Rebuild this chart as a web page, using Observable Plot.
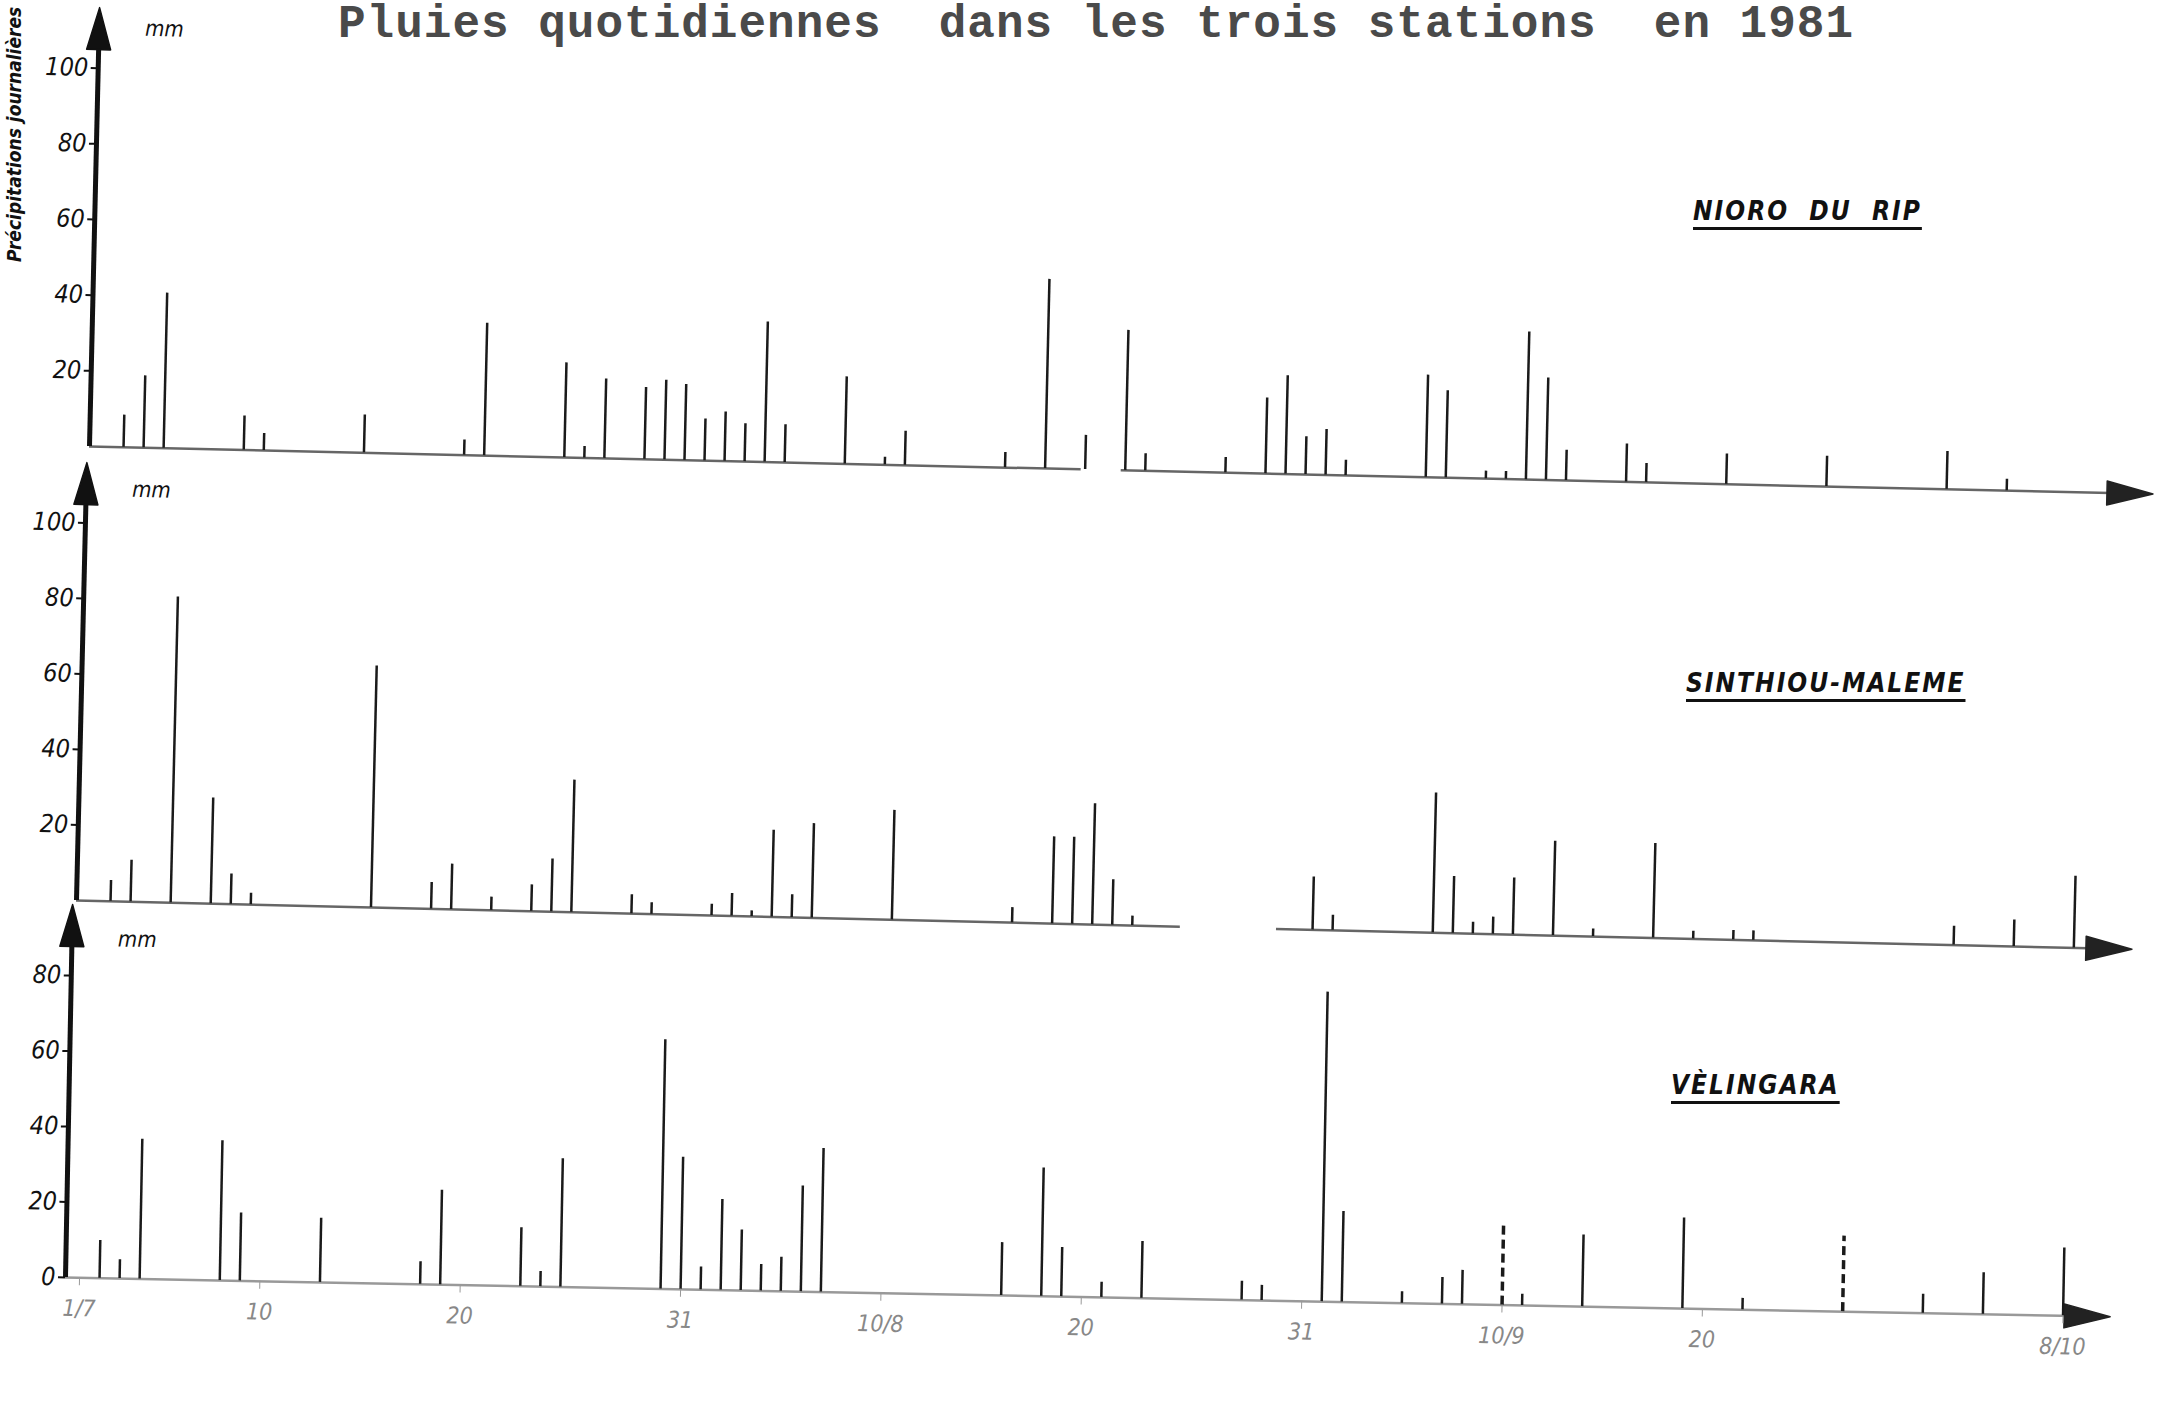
<!DOCTYPE html>
<html><head><meta charset="utf-8">
<script src="https://cdn.jsdelivr.net/npm/d3@7"></script>
<script src="https://cdn.jsdelivr.net/npm/@observablehq/plot@0.6"></script>
<style>
body{margin:0;background:#fff;}
#wrap{position:relative;width:2164px;height:1422px;overflow:hidden;background:#fff;font-family:"DejaVu Sans Condensed","Liberation Sans Narrow","DejaVu Sans",sans-serif;}
.panel{position:absolute;left:0;}
.panel svg{overflow:visible;}
.station{position:absolute;font-weight:900;font-style:italic;font-size:26px;letter-spacing:2px;text-decoration:underline;text-decoration-thickness:3px;text-underline-offset:7px;color:#111;white-space:pre;font-stretch:condensed;}
#title{position:absolute;left:338px;top:2px;line-height:46px;font-family:"Liberation Mono","DejaVu Sans Mono",monospace;font-weight:bold;font-size:46px;color:#4a4a4a;white-space:pre;letter-spacing:1px;}
#ytitle{position:absolute;left:2px;top:262px;transform:rotate(-90deg);transform-origin:left top;font-weight:bold;font-style:italic;font-size:19px;line-height:24px;color:#111;white-space:nowrap;}
</style></head>
<body><div id="wrap">
<div id="title">Pluies quotidiennes  dans les trois stations  en 1981</div>
<div id="ytitle">Précipitations journalières</div>
</div>
<script>
// Day index: 1 = 1 July 1981 (… 31 = 31 July, 62 = 31 Aug, 92 = 30 Sept, 100 = 8 Oct)
const nioroDays = [2,3,4,8,9,14,19,20,24,25,26,28,29,30,31,32,33,34,35,38,40,41,46,48,50,52,53,57,59,60,61,62,63,67,68,70,71,72,73,74,77,78,82,87,93,96];
const nioroMm   = [8.5,19,41,9,4.5,10,4,35,25,3,21,19,21,20,11,13,10,37,10,23,2,9,4,50,9,37,4.5,4,20,26,10,12,4,27,23,2,2,39,27,8,10,5,8,8,10,3];
const nioroAxisGaps = [[49.8, 51.8]];

const sinthiouDays = [2,3,5,7,8,9,15,18,19,21,23,24,25,28,29,32,33,34,35,36,37,41,47,49,50,51,52,53,62,63,68,69,70,71,72,74,76,79,81,83,84,94,97,100];
const sinthiouMm   = [5.5,11,81,28,8,3,64,7,12,3.5,7,14,35,5,3,3,6,1.5,23,6,25,29,4,23,23,32,12,2.5,14,4,37,15,3,4.5,15,25,2,25,2,2.5,2.5,5,7,19];
const sinthiouAxisGaps = [[55.4, 60.2]];

const velingaraDays = [2,3,4,8,9,13,18,19,23,24,25,30,31,32,33,34,35,36,37,38,47,49,50,52,54,59,60,63,64,67,69,70,72,73,76,81,84,89,93,96,100];
const velingaraMm   = [10,5,37,37,18,17,6,25,15.5,4,34,66,35,6,24,16,7,9,28,38,14,34,13,4,15,5,4,82,24,3,7,9,21,3,19,24,3,20,5,11,18];
const velingaraDashed = [72,89];
const velingaraAxisGaps = [];

const stationNames = ["NIORO  DU  RIP","SINTHIOU-MALEME","VÈLINGARA"];
const yTicksTop = [20,40,60,80,100];
const yTicksBottom = [0,20,40,60,80];
const xTicks = [1,10,20,31,41,51,62,72,82,100];
const xTickLabels = ["1/7","10","20","31","10/8","20","31","10/9","20","8/10"];

const tri = {draw(ctx, l, r){ ctx.moveTo(-r,0); ctx.lineTo(0,-l); ctx.lineTo(r,0); ctx.closePath(); }};
const x0 = 0.3;

function segmentsFrom(gaps, end){
  const segs = []; let s = x0;
  for (const [a,b] of gaps){ segs.push([s,a]); s = b; }
  segs.push([s,end]);
  return segs;
}

function panel(cfg){
  const rows = cfg.days.map((d,i)=>({day:d, mm:cfg.mm[i], dashed:(cfg.dashed||[]).includes(d)}));
  const marks = [
    Plot.ruleY(segmentsFrom(cfg.gaps, cfg.xEnd - 1), {y: 0, x1: d=>d[0], x2: d=>d[1], stroke: cfg.baseColor, strokeWidth: 2.5}),
    Plot.vector([[cfg.xEnd, 0]], {x: d=>d[0], y: d=>d[1], rotate: 90, length: 46, r: 12, anchor: "end", shape: tri, fill: "#222", stroke: "#222"}),
    Plot.ruleX([x0], {y1: 0, y2: cfg.yMax - 6, stroke: "#111", strokeWidth: 5}),
    Plot.vector([[x0, cfg.yMax]], {x: d=>d[0], y: d=>d[1], rotate: 0, length: 42, r: 12, anchor: "end", shape: tri, fill: "#111", stroke: "#111"}),
    Plot.axisY(cfg.yTicks, {anchor: "left", label: null, tickSize: 7, tickPadding: 3, fontSize: 25, fontStyle: "italic", stroke: "#111", strokeWidth: 2, tickFormat: d => String(d)}),
    Plot.ruleX(rows.filter(d=>!d.dashed), {x: "day", y1: 0, y2: "mm", stroke: "#1a1a1a", strokeWidth: 2.5}),
    Plot.ruleX(rows.filter(d=>d.dashed), {x: "day", y1: 0, y2: "mm", stroke: "#1a1a1a", strokeWidth: 3.5, strokeDasharray: "9,5"}),
    Plot.text(["mm"], {x: [x0], y: [cfg.yMax], dx: 46, dy: cfg.mmDy, text: d=>d, fontSize: 22, fontStyle: "italic", textAnchor: "start", fill: "#111"})
  ];
  if (cfg.xAxis) marks.push(Plot.axisX(xTicks, {anchor: "bottom", label: null, tickSize: 8, tickPadding: 14, fontSize: 23, fontStyle: "italic", stroke: "#999", fill: "#888", tickFormat: d => xTickLabels[xTicks.indexOf(d)]}));
  const svg = Plot.plot({
    width: 2164, height: cfg.height,
    marginLeft: cfg.ml, marginRight: 2164 - cfg.arrowEnd, marginTop: cfg.mt, marginBottom: cfg.mb,
    style: {fontFamily: '"DejaVu Sans Condensed","Liberation Sans Narrow","DejaVu Sans",sans-serif', background: "transparent", color: "#111"},
    x: {domain: [x0, cfg.xEnd], axis: null, label: null},
    y: {domain: [0, cfg.yMax], axis: null, label: null},
    marks
  });
  const div = document.createElement("div");
  div.className = "panel"; div.style.top = cfg.top + "px";
  // the scanned sheet is slightly rotated: tilt each panel about its origin
  div.style.transformOrigin = cfg.ml + "px " + (cfg.height - cfg.mb) + "px";
  div.style.transform = "rotate(" + cfg.tilt + "deg)";
  div.appendChild(svg);
  document.getElementById("wrap").appendChild(div);
}

panel({days: nioroDays, mm: nioroMm, gaps: nioroAxisGaps, top: 0, height: 456, mt: 7, mb: 10, ml: 89, arrowEnd: 2153, xEnd: 103.3, yMax: 116, yTicks: yTicksTop, baseColor: "#666", mmDy: 20, tilt: 1.32});
panel({days: sinthiouDays, mm: sinthiouMm, gaps: sinthiouAxisGaps, top: 456, height: 450, mt: 6, mb: 6, ml: 76, arrowEnd: 2132, xEnd: 102.9, yMax: 116, yTicks: yTicksTop, baseColor: "#666", mmDy: 26, tilt: 1.36});
panel({days: velingaraDays, mm: velingaraMm, dashed: velingaraDashed, gaps: velingaraAxisGaps, top: 896, height: 526, mt: 8, mb: 145, ml: 65, arrowEnd: 2110, xEnd: 102.35, yMax: 98.8, yTicks: yTicksBottom, baseColor: "#999", mmDy: 34, xAxis: true, tilt: 1.1});

const stationPos = [[1693,196],[1686,668],[1671,1070]];
stationNames.forEach((n,i)=>{
  const s = document.createElement("div");
  s.className = "station"; s.textContent = n;
  s.style.left = stationPos[i][0] + "px"; s.style.top = stationPos[i][1] + "px";
  document.getElementById("wrap").appendChild(s);
});
</script>
</body></html>
